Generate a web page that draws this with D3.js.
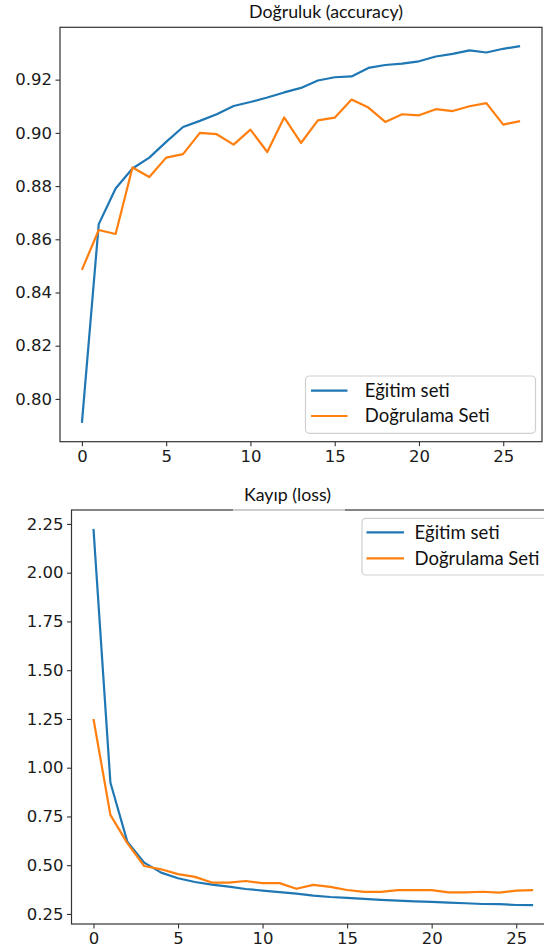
<!DOCTYPE html>
<html>
<head>
<meta charset="utf-8">
<script src="https://cdn.jsdelivr.net/npm/d3@7"></script>
<style>
  html, body { margin: 0; padding: 0; background: #fff; }
  svg { display: block; }
</style>
</head>
<body>
<svg id="chart" width="544" height="951"></svg>
<script>
// ---- data ----
const epochs = d3.range(0, 27);
const accTrain = [0.791, 0.8657, 0.8791, 0.8866, 0.8907, 0.8966, 0.9022, 0.9045, 0.9070, 0.9101,
  0.9116, 0.9133, 0.9152, 0.9169, 0.9197, 0.9209, 0.9212, 0.9244, 0.9255, 0.9260,
  0.9269, 0.9287, 0.9297, 0.9310, 0.9302, 0.9316, 0.9326];
const accVal = [0.8485, 0.8635, 0.8620, 0.8870, 0.8834, 0.8907, 0.8920, 0.9000, 0.8995, 0.8956,
  0.9012, 0.8928, 0.9058, 0.8962, 0.9047, 0.9057, 0.9125, 0.9095, 0.9041, 0.9070,
  0.9066, 0.9089, 0.9082, 0.9100, 0.9112, 0.9031, 0.9044];
const lossTrain = [2.225, 0.924, 0.621, 0.513, 0.462, 0.433, 0.414, 0.400, 0.390, 0.378,
  0.370, 0.362, 0.354, 0.344, 0.337, 0.332, 0.327, 0.322, 0.318, 0.315,
  0.312, 0.308, 0.305, 0.301, 0.300, 0.296, 0.295];
const lossVal = [1.250, 0.758, 0.613, 0.496, 0.479, 0.454, 0.440, 0.411, 0.411, 0.419,
  0.408, 0.408, 0.379, 0.399, 0.389, 0.373, 0.363, 0.363, 0.372, 0.372,
  0.372, 0.361, 0.361, 0.364, 0.359, 0.370, 0.372];
const xTicks = [0, 5, 10, 15, 20, 25];
const accTicks = [0.80, 0.82, 0.84, 0.86, 0.88, 0.90, 0.92];
const lossTicks = [0.25, 0.50, 0.75, 1.00, 1.25, 1.50, 1.75, 2.00, 2.25];
const seriesNames = ["Eğitim seti", "Doğrulama Seti"];
const titles = ["Doğruluk (accuracy)", "Kayıp (loss)"];

// ---- style ----
const colors = ["#1f77b4", "#ff7f0e"];
const tickFont = "'DejaVu Sans', sans-serif";
const labelFont = "Lato, 'Open Sans', sans-serif";
const svg = d3.select("#chart");

function padDomain(arrs) {
  const lo = d3.min(arrs, a => d3.min(a)), hi = d3.max(arrs, a => d3.max(a));
  const m = (hi - lo) * 0.05;
  return [lo - m, hi + m];
}

function panel(cfg) {
  const g = svg.append("g");
  const xd = d3.extent(epochs); const xm = (xd[1] - xd[0]) * 0.05;
  const x = d3.scaleLinear().domain([xd[0] - xm, xd[1] + xm]).range([cfg.left, cfg.right]);
  const y = d3.scaleLinear().domain(padDomain(cfg.series)).range([cfg.bottom, cfg.top]);

  // lines
  const line = d3.line().x((d, i) => x(epochs[i])).y(d => y(d));
  cfg.series.forEach((s, k) => {
    g.append("path").datum(s).attr("d", line)
      .attr("fill", "none").attr("stroke", colors[k])
      .attr("stroke-width", 2.2).attr("stroke-linejoin", "round");
  });

  // axes
  const xa = g.append("g").attr("transform", `translate(0,${cfg.bottom})`)
    .call(d3.axisBottom(x).tickValues(xTicks).tickFormat(d3.format("d")).tickSize(4.5).tickPadding(4));
  const ya = g.append("g").attr("transform", `translate(${cfg.left},0)`)
    .call(d3.axisLeft(y).tickValues(cfg.yTicks).tickFormat(d3.format(".2f")).tickSize(4.5).tickPadding(3.5));
  [xa, ya].forEach(a => {
    a.select(".domain").remove();
    a.selectAll(".tick line").attr("stroke", "#333").attr("stroke-width", 1.1);
    a.selectAll(".tick text").attr("font-family", tickFont).attr("font-size", 16.5).attr("fill", "#1a1a1a");
  });

  // frame
  g.append("rect").attr("x", cfg.left).attr("y", cfg.top)
    .attr("width", cfg.right - cfg.left).attr("height", cfg.bottom - cfg.top)
    .attr("fill", "none").attr("stroke", "#333").attr("stroke-width", 1.2);

  // title
  if (cfg.titlePatch) {
    g.append("rect").attr("x", cfg.titlePatch[0]).attr("y", cfg.top - 20)
      .attr("width", cfg.titlePatch[1] - cfg.titlePatch[0]).attr("height", 21)
      .attr("fill", "#fff").attr("opacity", 0.6);
  }
  g.append("text").attr("x", cfg.titleX).attr("y", cfg.titleY)
    .attr("text-anchor", "middle").attr("font-family", labelFont)
    .attr("font-size", 17.8).attr("fill", "#111").text(cfg.title);

  // legend
  const L = cfg.legend;
  g.append("rect").attr("x", L.x0).attr("y", L.y0)
    .attr("width", L.x1 - L.x0).attr("height", L.y1 - L.y0).attr("rx", 4)
    .attr("fill", "#fff").attr("fill-opacity", 0.85)
    .attr("stroke", "#d0d0d0").attr("stroke-width", 1.2);
  seriesNames.forEach((name, k) => {
    const yy = L.rows[k];
    g.append("line").attr("x1", L.hx0).attr("x2", L.hx1).attr("y1", yy).attr("y2", yy)
      .attr("stroke", colors[k]).attr("stroke-width", 2.2);
    g.append("text").attr("x", L.tx).attr("y", yy + 6.2)
      .attr("font-family", labelFont).attr("font-size", 18.5).attr("fill", "#111").text(name);
  });
}

panel({
  left: 60, right: 542, top: 27.3, bottom: 441.7,
  series: [accTrain, accVal], yTicks: accTicks,
  title: titles[0], titleX: 326, titleY: 17.5,
  legend: { x0: 305.5, x1: 535.5, y0: 376, y1: 433.3, hx0: 311, hx1: 347.5, tx: 364.8, rows: [390.7, 416] }
});
panel({
  left: 71.5, right: 555.1, top: 510, bottom: 924,
  series: [lossTrain, lossVal], yTicks: lossTicks,
  title: titles[1], titleX: 287.5, titleY: 500.7, titlePatch: [233, 345],
  legend: { x0: 362, x1: 560, y0: 518.3, y1: 575, hx0: 366.5, hx1: 404, tx: 414.6, rows: [532.3, 558.3] }
});
</script>
</body>
</html>
